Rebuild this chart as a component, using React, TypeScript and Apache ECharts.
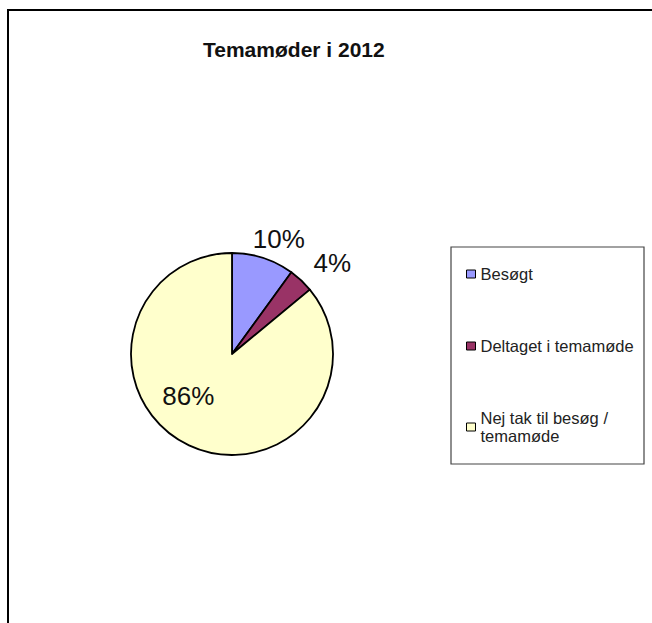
import React, { useEffect, useRef } from "react";
import * as echarts from "echarts";

const titleText = "Temamøder i 2012";
const categories = ["Besøgt", "Deltaget i temamøde", "Nej tak til besøg / temamøde"];
const values = [10, 4, 86];
const colors = ["#9999FF", "#993366", "#FFFFCC"];

const FONT = "'Liberation Sans', Arial, sans-serif";

export default function App() {
  const ref = useRef<HTMLDivElement>(null);
  useEffect(() => {
    if (!ref.current) return;
    const chart = echarts.init(ref.current, undefined, { renderer: "svg" });
    const labelShift: Record<number, [number, number]> = {
      0: [-21, -2],
      1: [-5, -4],
      2: [-21, -6],
    };
    chart.setOption({
      animation: false,
      backgroundColor: "#fff",
      title: {
        text: titleText,
        left: 203,
        top: 39,
        padding: 0,
        textStyle: { fontFamily: FONT, fontSize: 21, fontWeight: "bold", color: "#111" },
      },
      legend: {
        orient: "vertical",
        left: 466,
        top: 265,
        padding: 0,
        itemGap: 54,
        itemWidth: 9,
        itemHeight: 8,
        icon: "rect",
        selectedMode: false,
        itemStyle: { borderColor: "#000", borderWidth: 1 },
        textStyle: { fontFamily: FONT, fontSize: 16.5, color: "#222", lineHeight: 18 },
        formatter: (name: string) => name.replace(" / ", " /\n"),
        data: categories,
      },
      graphic: [
        {
          type: "rect",
          shape: { x: 8, y: 10, width: 800, height: 800 },
          style: { fill: "none", stroke: "#000", lineWidth: 2 },
          silent: true,
        },
        {
          type: "rect",
          shape: { x: 451, y: 247, width: 193, height: 217 },
          style: { fill: "none", stroke: "#444", lineWidth: 1.2 },
          silent: true,
        },
      ],
      series: [
        {
          type: "pie",
          center: [232, 354],
          radius: 101,
          startAngle: 90,
          clockwise: true,
          avoidLabelOverlap: false,
          itemStyle: { borderColor: "#000", borderWidth: 1.8 },
          label: {
            show: true,
            position: "outside",
            formatter: "{d}%",
            fontFamily: FONT,
            fontSize: 26,
            color: "#111",
          },
          labelLine: { show: false, length: 18, length2: 0 },
          labelLayout: (params: any) => {
            const s = labelShift[params.dataIndex] || [0, 0];
            return { dx: s[0], dy: s[1] };
          },
          emphasis: { disabled: true },
          data: categories.map((name, i) => ({
            name,
            value: values[i],
            itemStyle: { color: colors[i] },
            label: i === 2 ? { position: "inside" } : undefined,
          })),
        },
      ],
    });
    return () => chart.dispose();
  }, []);
  return (
    <div
      ref={ref}
      style={{ position: "absolute", left: 0, top: 0, width: 652, height: 623 }}
    />
  );
}
